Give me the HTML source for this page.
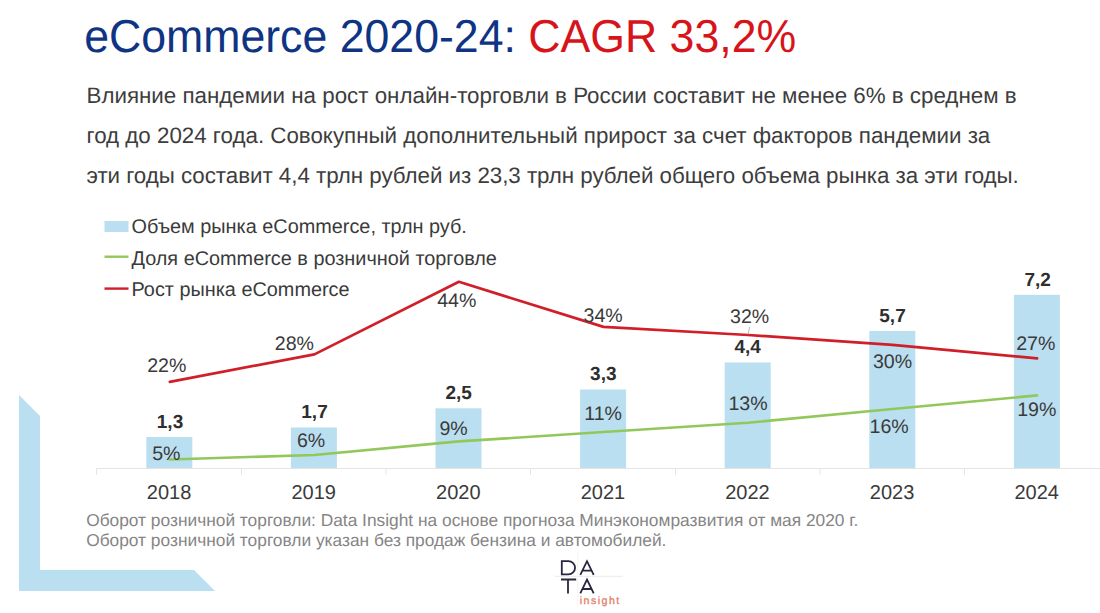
<!DOCTYPE html>
<html><head><meta charset="utf-8">
<style>
html,body{margin:0;padding:0;background:#fff;}
body{width:1100px;height:613px;overflow:hidden;font-family:"Liberation Sans",sans-serif;}
svg{display:block;position:absolute;left:0;top:0;}
text{font-family:"Liberation Sans",sans-serif;text-rendering:geometricPrecision;}
.p{font-size:22.35px;fill:#3d3d3d;}
.lg{font-size:19.88px;fill:#3a3a3a;}
.dl{font-size:19.6px;fill:#3a3a3a;text-anchor:middle;}
.bl{font-size:19px;fill:#2e2e2e;font-weight:bold;text-anchor:middle;}
.ax{font-size:20px;fill:#3a3a3a;text-anchor:middle;}
.fn{font-size:17.33px;fill:#858585;}
</style></head>
<body>
<svg width="1100" height="613" viewBox="0 0 1100 613">
<rect width="1100" height="613" fill="#fff"/>
<!-- decorative L -->
<polygon points="19,395 40,416 40,570 194,570 215,591 19,591" fill="#badff0"/>
<!-- title -->
<text x="84.2" y="52.4" font-size="46.2" fill="#0e3483" textLength="712" lengthAdjust="spacingAndGlyphs">eCommerce 2020-24: <tspan fill="#d6141a">CAGR 33,2%</tspan></text>
<!-- paragraph -->
<text class="p" x="86.5" y="103" textLength="930.1">Влияние пандемии на рост онлайн-торговли в России составит не менее 6% в среднем в</text>
<text class="p" x="86.5" y="143" textLength="903.8">год до 2024 года. Совокупный дополнительный прирост за счет факторов пандемии за</text>
<text class="p" x="86.5" y="183" textLength="932.3">эти годы составит 4,4 трлн рублей из 23,3 трлн рублей общего объема рынка за эти годы.</text>
<!-- legend -->
<rect x="104.5" y="221" width="24" height="11" fill="#badff0"/>
<line x1="104.5" y1="256.7" x2="128.5" y2="256.7" stroke="#92c85a" stroke-width="2.4"/>
<line x1="104.5" y1="288.6" x2="128.5" y2="288.6" stroke="#d01f29" stroke-width="2.4"/>
<text class="lg" x="131.5" y="232.7">Объем рынка eCommerce, трлн руб.</text>
<text class="lg" x="131.5" y="264.6">Доля eCommerce в розничной торговле</text>
<text class="lg" x="131.5" y="295.5">Рост рынка eCommerce</text>
<!-- bars -->
<g fill="#badff0">
<rect x="146.3" y="437.0" width="46" height="32.0"/>
<rect x="290.9" y="427.5" width="46" height="41.5"/>
<rect x="435.5" y="408.3" width="46" height="60.7"/>
<rect x="580.1" y="389.5" width="46" height="79.5"/>
<rect x="724.7" y="362.5" width="46" height="106.5"/>
<rect x="869.3" y="331.0" width="46" height="138.0"/>
<rect x="1013.9" y="294.8" width="46" height="174.2"/>
</g>
<!-- axis -->
<g stroke="#e5e5e5" stroke-width="1" fill="none">
<line x1="96" y1="468.5" x2="1100" y2="468.5"/>
<path d="M96.5 468.5v6.5M241.5 468.5v6.5M386 468.5v6.5M530.5 468.5v6.5M675.5 468.5v6.5M820 468.5v6.5M964.5 468.5v6.5"/>
</g>
<!-- lines -->
<polyline fill="none" stroke="#92c85a" stroke-width="2.6" stroke-linejoin="round" stroke-linecap="round" points="169.8,459.5 314.4,455 458.9,441.4 603.5,432 748.0,422.7 892.5,409 1037.1,395.4"/>
<polyline fill="none" stroke="#d01f29" stroke-width="2.7" stroke-linejoin="round" stroke-linecap="round" points="169.8,381.8 314.4,354.4 458.9,281.8 603.5,326.9 748.0,335 892.5,344.9 1037.1,358.3"/>
<line x1="749.7" y1="327" x2="748" y2="334.5" stroke="#a6a6a6" stroke-width="0.8"/>
<!-- bar value labels -->
<text class="bl" x="170.0" y="428">1,3</text>
<text class="bl" x="314.5" y="417.6">1,7</text>
<text class="bl" x="458.6" y="398.6">2,5</text>
<text class="bl" x="603.3" y="379.8">3,3</text>
<text class="bl" x="747.7" y="353">4,4</text>
<text class="bl" x="892.5" y="322">5,7</text>
<text class="bl" x="1037.6" y="286">7,2</text>
<!-- green labels -->
<text class="dl" x="166.3" y="460">5%</text>
<text class="dl" x="311.1" y="447.4">6%</text>
<text class="dl" x="453.6" y="434.8">9%</text>
<text class="dl" x="603.1" y="419.6">11%</text>
<text class="dl" x="748" y="409.8">13%</text>
<text class="dl" x="889.2" y="432.8">16%</text>
<text class="dl" x="1036.8" y="416">19%</text>
<!-- red labels -->
<text class="dl" x="166.8" y="371.6">22%</text>
<text class="dl" x="294.4" y="350">28%</text>
<text class="dl" x="456.8" y="307.1">44%</text>
<text class="dl" x="603.1" y="321.5">34%</text>
<text class="dl" x="749.6" y="323.4">32%</text>
<text class="dl" x="892.5" y="368.2">30%</text>
<text class="dl" x="1035.8" y="349.9">27%</text>
<!-- axis labels -->
<text class="ax" x="169.1" y="499">2018</text>
<text class="ax" x="313.7" y="499">2019</text>
<text class="ax" x="458.3" y="499">2020</text>
<text class="ax" x="602.9" y="499">2021</text>
<text class="ax" x="747.5" y="499">2022</text>
<text class="ax" x="892.1" y="499">2023</text>
<text class="ax" x="1036.7" y="499">2024</text>
<!-- footnote -->
<text class="fn" x="86.2" y="526.4">Оборот розничной торговли: Data Insight на основе прогноза Минэкономразвития от мая 2020 г.</text>
<text class="fn" x="86.2" y="546">Оборот розничной торговли указан без продаж бензина и автомобилей.</text>
<!-- logo -->
<g fill="none">
<line x1="555" y1="576.3" x2="622.5" y2="576.3" stroke="#e8eaef" stroke-width="1"/>
<line x1="577.7" y1="553" x2="577.7" y2="607" stroke="#f3f3f6" stroke-width="1"/>
<g stroke="#2a2540" stroke-width="1.8" stroke-linejoin="miter">
<path d="M561.8 561.1H568.4A6.65 6.65 0 0 1 568.4 574.4H561.8Z"/>
<path d="M580.3 574.9L587 561.2L593.7 574.9M582.6 570.6H591.4"/>
<path d="M561 579.5H576.2M568 579.5V593.4"/>
<path d="M580.3 593.4L587 579.6L593.7 593.4M582.6 589H591.4"/>
</g>
<text x="579.7" y="603.8" font-size="10.6" fill="#dc8068" letter-spacing="1.5" stroke="#dc8068" stroke-width="0.3">insight</text>
</g>
</svg>
</body></html>
